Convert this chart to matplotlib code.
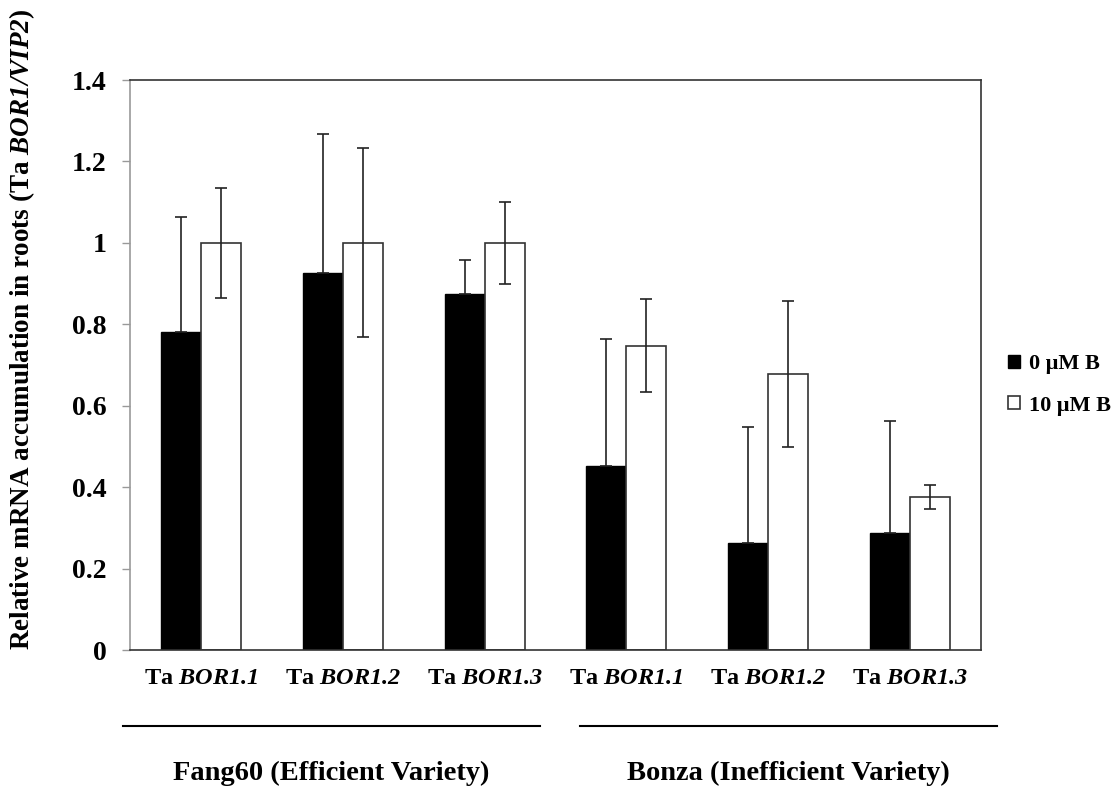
import numpy as np
import matplotlib
matplotlib.use("Agg")
import matplotlib.pyplot as plt
from matplotlib.transforms import blended_transform_factory

# Times-like bold serif throughout; everything inside $...$ is bold italic
plt.rcParams['font.family'] = ['Liberation Serif', 'DejaVu Serif']
plt.rcParams['font.weight'] = 'bold'
plt.rcParams['mathtext.fontset'] = 'custom'
plt.rcParams['mathtext.rm'] = 'Liberation Serif:italic:bold'
plt.rcParams['mathtext.it'] = 'Liberation Serif:italic:bold'
plt.rcParams['mathtext.bf'] = 'Liberation Serif:italic:bold'

# Data
genes = ['BOR1.1', 'BOR1.2', 'BOR1.3', 'BOR1.1', 'BOR1.2', 'BOR1.3']
varieties = ['Fang60 (Efficient Variety)', 'Bonza (Inefficient Variety)']
treatments = ['0 μM B', '10 μM B']
mean_0B = [0.782, 0.925, 0.874, 0.452, 0.262, 0.288]
err_0B = [0.282, 0.342, 0.084, 0.313, 0.285, 0.274]
mean_10B = [1.0, 1.0, 1.0, 0.747, 0.678, 0.376]
err_10B = [0.135, 0.232, 0.100, 0.114, 0.180, 0.030]
yticks = [0, 0.2, 0.4, 0.6, 0.8, 1, 1.2, 1.4]
ytick_labels = ['0', '0.2', '0.4', '0.6', '0.8', '1', '1.2', '1.4']

fig = plt.figure(figsize=(11.2, 7.92), dpi=100)
ax = fig.add_axes([130 / 1120, 1 - 650 / 792, 851 / 1120, 570 / 792])

x = np.arange(len(genes))
w = 0.282
ebar = dict(ecolor='#222222', elinewidth=1.2, capsize=4.3, capthick=1.2)

ax.bar(x - w / 2, mean_0B, w, color='black', edgecolor='black', linewidth=1,
       label=treatments[0], zorder=2)
ax.errorbar(x - w / 2, mean_0B, yerr=[np.zeros(len(err_0B)), err_0B],
            fmt='none', zorder=3, **ebar)
ax.bar(x + w / 2, mean_10B, w, color='white', edgecolor='#333333', linewidth=1.2,
       label=treatments[1], zorder=2)
ax.errorbar(x + w / 2, mean_10B, yerr=err_10B, fmt='none', zorder=3, **ebar)

ax.set_xlim(-0.5, len(genes) - 0.5)
ax.set_ylim(0, 1.4)
ax.set_yticks(yticks)
ax.set_yticklabels(ytick_labels, fontsize=20)
ax.set_xticks(x)
ax.set_xticklabels([r'Ta $%s$' % g for g in genes], fontsize=17.5)
ax.tick_params(axis='x', length=0, pad=13)
ax.tick_params(axis='y', length=6, width=1, color='#999999', pad=11)

for side in ['top', 'right', 'bottom']:
    ax.spines[side].set_color('#333333')
    ax.spines[side].set_linewidth(1.2)
ax.spines['left'].set_color('#999999')
ax.spines['left'].set_linewidth(1.2)

# Variety brackets below the gene labels
trans = blended_transform_factory(ax.transData, ax.transAxes)
spans = [(-0.55, 2.39), (2.67, 5.61)]
for (x0, x1), name in zip(spans, varieties):
    ax.plot([x0, x1], [-0.133, -0.133], color='black', linewidth=1.5,
            transform=trans, clip_on=False)
    ax.text((x0 + x1) / 2, -0.216, name, transform=trans, ha='center',
            va='center', fontsize=20.5)

fig.text(22 / 1120, 1 - 329 / 792,
         r'Relative mRNA accumulation in roots (Ta $BOR1/VIP2$)',
         rotation=90, ha='center', va='center', fontsize=19.5)

ax.legend(loc='center left', bbox_to_anchor=(997 / 1120, 1 - 385 / 792),
          bbox_transform=fig.transFigure, frameon=False, fontsize=16,
          handlelength=0.55, handleheight=0.55, handletextpad=0.4,
          labelspacing=0.95, borderpad=0)

fig.savefig('out.png', dpi=100)
